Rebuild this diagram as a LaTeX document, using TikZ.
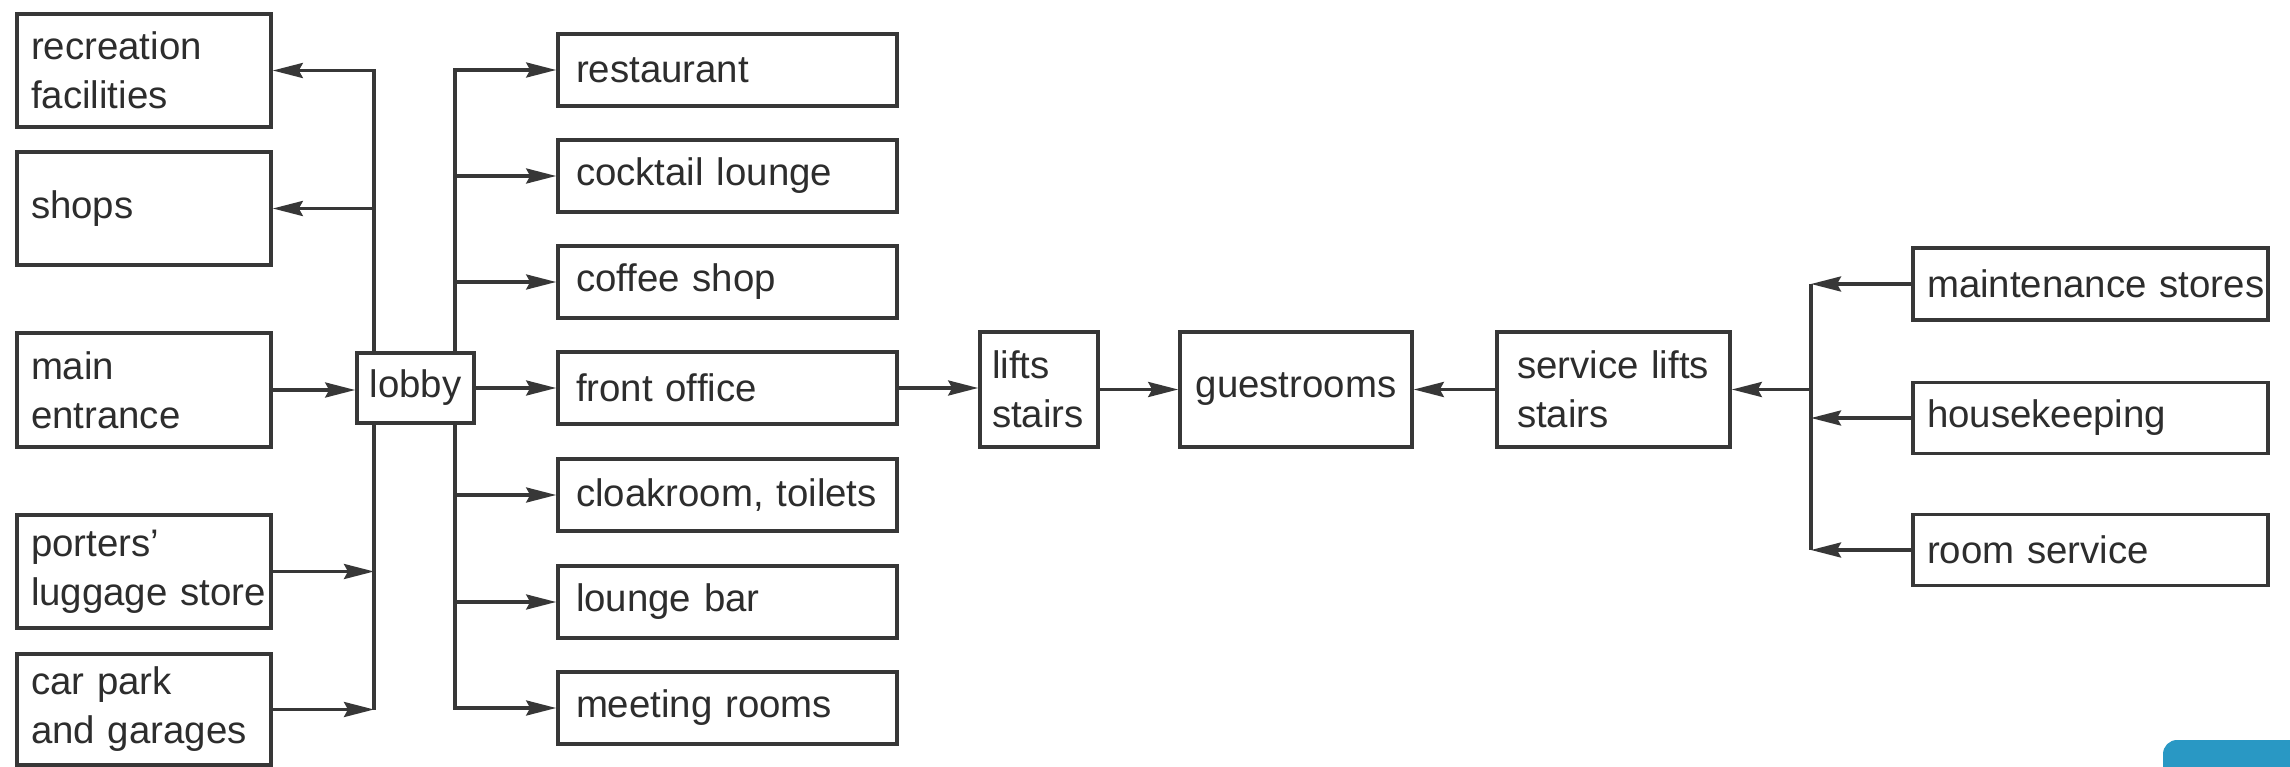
\documentclass[tikz,border=0pt]{standalone}
\usepackage{fontspec}
\setmainfont{Liberation Sans}
\usetikzlibrary{arrows.meta}
\definecolor{lc}{RGB}{55,55,55}
\definecolor{tc}{RGB}{45,45,45}
\definecolor{btn}{RGB}{41,152,196}
\begin{document}
\begin{tikzpicture}[x=1pt,y=-1pt,
  box/.style={draw=lc, line width=3.6pt, fill=white, text=tc, font=\fontsize{38.4pt}{49pt}\selectfont, inner ysep=0pt},
  lbox/.style={box, align=left},
  cbox/.style={box, align=center},
  arr/.style={draw=lc, line width=3.4pt, -{Stealth[length=30pt,width=15pt,inset=4pt]}},
  ln/.style={draw=lc, line width=3.4pt}]
\fill[white] (0,0) rectangle (2290,767);
\useasboundingbox (0,0) rectangle (2290,767);

% bus coordinates
\coordinate (bL) at (374,0);
\coordinate (bR) at (455,0);
\coordinate (bS) at (1811,0);

% left column
\node[lbox, minimum width=254pt, minimum height=113pt, text width=226pt, inner xsep=14pt] (rec) at (144,70.5) {recreation\\facilities};
\node[lbox, minimum width=254pt, minimum height=113pt, text width=226pt, inner xsep=14pt] (shops) at (144,208.5) {shops};
\node[lbox, minimum width=254pt, minimum height=114pt, text width=226pt, inner xsep=14pt] (main) at (144,390) {main\\entrance};
\node[lbox, minimum width=254pt, minimum height=113pt, text width=226pt, inner xsep=14pt] (porters) at (144,571.5) {porters'\\\mbox{luggage store}};
\node[lbox, minimum width=254pt, minimum height=111pt, text width=226pt, inner xsep=14pt] (car) at (144,709.5) {car park\\and garages};

% lobby
\node[cbox, minimum width=117pt, minimum height=70pt, inner xsep=0pt] (lobby) at (415.5,388) {lobby};

% middle column
\node[lbox, minimum width=339pt, minimum height=72pt, text width=303pt, inner xsep=18pt] (rest) at (727.5,70) {restaurant};
\node[lbox, minimum width=339pt, minimum height=72pt, text width=303pt, inner xsep=18pt] (cock) at (727.5,176) {cocktail lounge};
\node[lbox, minimum width=339pt, minimum height=72pt, text width=303pt, inner xsep=18pt] (coffee) at (727.5,282) {coffee shop};
\node[lbox, minimum width=339pt, minimum height=72pt, text width=303pt, inner xsep=18pt] (front) at (727.5,388) {front office};
\node[lbox, minimum width=339pt, minimum height=72pt, text width=303pt, inner xsep=18pt] (cloak) at (727.5,495) {cloakroom, toilets};
\node[lbox, minimum width=339pt, minimum height=72pt, text width=303pt, inner xsep=18pt] (lounge) at (727.5,602) {lounge bar};
\node[lbox, minimum width=339pt, minimum height=72pt, text width=303pt, inner xsep=18pt] (meet) at (727.5,708) {meeting rooms};

% centre chain
\node[lbox, minimum width=118pt, minimum height=115pt, text width=94pt, inner xsep=12pt] (lifts) at (1039,389.5) {lifts\\stairs};
\node[cbox, minimum width=232pt, minimum height=115pt, inner xsep=0pt] (guest) at (1296,389.5) {guestrooms};
\node[lbox, minimum width=233pt, minimum height=115pt, text width=193pt, inner xsep=20pt] (serv) at (1613.5,389.5) {service lifts\\stairs};

% right column
\node[lbox, minimum width=355pt, minimum height=72pt, text width=327pt, inner xsep=14pt] (maint) at (2090.5,284) {\mbox{maintenance stores}};
\node[lbox, minimum width=355pt, minimum height=71pt, text width=327pt, inner xsep=14pt] (house) at (2090.5,418) {housekeeping};
\node[lbox, minimum width=355pt, minimum height=71pt, text width=327pt, inner xsep=14pt] (room) at (2090.5,550) {room service};

% left bus
\draw[arr] (bL |- lobby.north) |- (rec.east);
\draw[arr] (bL |- shops.east) -- (shops.east);
\draw[arr] (main.east) -- (main.east -| lobby.west);
\draw[arr] (porters.east) -- (porters.east -| bL);
\draw[ln] (bL |- lobby.south) -- (bL |- car.east);
\draw[arr] (car.east) -- (car.east -| bL);

% right bus of lobby
\draw[arr] (bR |- lobby.north) |- (rest.west);
\draw[arr] (bR |- cock.west) -- (cock.west);
\draw[arr] (bR |- coffee.west) -- (coffee.west);
\draw[arr] (lobby.east) -- (front.west);
\draw[arr] (bR |- cloak.west) -- (cloak.west);
\draw[arr] (bR |- lounge.west) -- (lounge.west);
\draw[arr] (bR |- lobby.south) |- (meet.west);

% centre chain
\draw[arr] (front.east) -- (front.east -| lifts.west);
\draw[arr] (lifts.east) -- (guest.west);
\draw[arr] (serv.west) -- (guest.east);

% service bus
\draw[ln] (bS |- maint.west) -- (bS |- room.west);
\draw[arr] (bS |- serv.east) -- (serv.east);
\draw[arr] (maint.west) -- (maint.west -| bS);
\draw[arr] (house.west) -- (house.west -| bS);
\draw[arr] (room.west) -- (room.west -| bS);

% corner button
\fill[btn] (2163,754) rectangle (2290,767);
\fill[btn] (2177,740) rectangle (2290,767);
\fill[btn] (2177,754) circle (14);
\end{tikzpicture}
\end{document}
